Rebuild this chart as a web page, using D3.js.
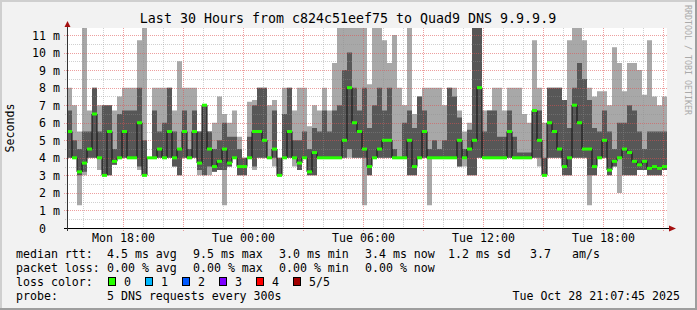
<!DOCTYPE html>
<html>
<head>
<meta charset="utf-8">
<script src="https://cdn.jsdelivr.net/npm/d3@7"></script>
<style>
body { margin: 0; background: #f2f2f2; }
text { font-family: "DejaVu Sans Mono", monospace; fill: #000; }
</style>
</head>
<body>
<div id="chart"></div>
<script>
// Median-RTT und Ping-Streuung pro 15-Minuten-Spalte (ms)
const median  = [5.5,4,3.2,3.7,4.5,6.5,4,3,5.5,3.8, 4,5.5,4,4,6,3,4,4,4.5,4,
                 5.5,4,4.5,5.5,4,5.5,3.7,7,4.5,3.5, 3.8,4.5,3.7,4,3.5,3.5,4,5.5,5.5,5,
                 4,4.5,3,4,5.5,4,3.7,4,3.2,4.3, 4,4,4,4,4,5,8,6,5.5,4.5,
                 3.5,4,4.5,5,5,4,4,4,5,3.5, 4,5.5,4,4,4,4,4,4,5,4,
                 4.5,5,8,4,4,4,4,4,5.5,4, 4,4,4,6.7,5,3,6,5.5,4.5,3.5,
                 4,7,6,4.5,4.5,3.5,4,5,3.3,3.8, 4,4.5,4.3,3.8,3.6,3.8,3.4,3.5,3.4,3.5];
const innerLo = [4,4,3,3.2,4,4,4,3,3,3.6, 4,4,4,4,3.5,3,4,4,4,4,
                 4,3.5,3,4,4,4,3.3,3,3.5,3.2, 3.3,3.3,3.5,4,3,3,4,3.5,4,4,
                 4,4,3,4,4,4,3.3,4,3,3, 4,4,4,4,4,4,4.5,4,4,4,
                 3,4,4,4,4,4,4,4,3,3, 4,4,4,4,4,4,4,4,3.5,4,
                 3,3,4,4,4,4,4,4,4,4, 4,4,4,4,4,3,4,4,4,3,
                 3,4,4,4,3,3,4,4,3,3.5, 4,3,3,3,3.3,3.3,3,3,3,3.3];
const innerHi = [6.7,5,4.5,5.5,5.5,8,5.5,7,7,4.5, 6.5,6.7,6.7,6.7,8,5,4,6.7,5.5,6,
                 8,5.5,4.5,6.7,4.5,6.7,5.5,7,5.5,4.5, 5,6,5.2,5.2,4.5,4,5.2,7,8,8,
                 4,6.7,4,6.5,8,5,5,5.5,4.5,5.7, 5.5,6.7,5.5,6.7,7,9,10,8,6.7,8,
                 5.7,7,8,6.7,8,4.5,4,6,6.7,5.7, 7.5,6.7,4.5,5,4.5,5,8,7.5,6.3,4.5,
                 5.6,11.4,11.4,5.5,6.7,6.7,5.2,5.2,6.7,5.2, 4.3,4.3,4.3,6.7,6.7,4,8,8,8,7.3,
                 5.7,8,9.4,8.5,7.3,5.7,5.5,6.7,5.5,4.5, 6,6,7,6.7,5.5,4.5,5.5,5.5,5.5,5.5];
const outerLo = [4,4,1.3,3,4,4,3.3,3,3,3.6, 4,4,4,4,3.3,3,4,4,4,4,
                 4,3.5,3,4,4,4,3,3,3,3.2, 3.3,1.3,3.5,4,3,3,4,3.3,4,4,
                 4,3.5,3,4,4,3.5,3.3,4,3,3, 4,4,4,4,4,4,4,4,4,1.3,
                 3,4,4,4,4,4,4,4,3,3, 4,4,1.3,4,4,4,4,4,3.5,3.5,
                 3,3,4,4,4,4,4,4,4,4, 4,4,4,4,3.5,3,4,4,4,3,
                 3,4,4,4,1.3,3,4,4,3,3.5, 2,3,3,3,3.3,3.3,3,3,3,3.3];
const outerHi = [8,7,5.5,11.4,6.7,8,7,7,7,6.7, 7.5,8,8,8,10.7,11.4,4,8,8,8,
                 8,6.7,9.5,8,8,8,5.5,7,5.5,6, 7.5,6.5,6,6.7,5.2,4,7.2,7.3,8,8,
                 7,7.3,4,8,8,6.7,8,8,5.8,7, 6.7,8,6.7,9.4,11.4,11.4,11.4,11.4,11.4,11.4,
                 8.2,11.4,11.4,10.7,9.4,11,8,7,11.4,6.5, 7.5,8,8,8,8,7,8,8,6.7,5.5,
                 6,11.4,11.4,6.7,6.7,8,8,6.7,8,8, 8,6.5,6,10.7,8,6,8,8,8,7.3,
                 10.7,11.4,11.4,10.7,8,7.5,7.8,7.8,7,10.3, 9.4,7.8,9.4,9.4,9,7.6,10.7,7.5,7,7.5];

const yTicks = [0,1,2,3,4,5,6,7,8,9,10,11];

const lossColors = ["#26ff00","#00b8ff","#0059ff","#7e00ff","#ff0000","#a10000"];
const lossLabels = ["0","1","2","3","4","5/5"];

const legendRows = [
    [[16,"median rtt:"],[107,"4.5 ms avg"],[193,"9.5 ms max"],[279,"3.0 ms min"],[365,"3.4 ms now"],[448,"1.2 ms sd"],[530,"3.7"],[572,"am/s"]],
    [[16,"packet loss:"],[107,"0.00 % avg"],[193,"0.00 % max"],[279,"0.00 % min"],[365,"0.00 % now"]],
    [[16,"loss color:"]],
    [[16,"probe:"],[107,"5 DNS requests every 300s"]]
];

const width = 697, height = 310;
const start = new Date(Date.UTC(2025, 9, 27, 15, 12));
const end = new Date(Date.UTC(2025, 9, 28, 21, 12));

const x = d3.scaleUtc().domain([start, end]).range([67, 667]);
const y = d3.scaleLinear().domain([0, 11.4]).range([228, 28]);

const svg = d3.select("#chart")
    .append("svg")
    .attr("width", width)
    .attr("height", height);

// Rahmen
svg.append("rect").attr("width", width).attr("height", height).attr("fill", "#f2f2f2");
svg.append("path").attr("d", "M0,1H696M1,0V310").attr("stroke", "#cfcfcf").attr("stroke-width", 2);
svg.append("path").attr("d", "M0,309H697M696,0V310").attr("stroke", "#9e9e9e").attr("stroke-width", 2);

svg.append("rect")
    .attr("x", 67).attr("y", 28).attr("width", 600).attr("height", 200)
    .attr("fill", "#fff");

// Daten
const rows = median.map((m, i) => ({
    t: d3.utcMinute.offset(start, 15 * i),
    m: m, il: innerLo[i], ih: innerHi[i], ol: outerLo[i], oh: outerHi[i]
}));
const stepRows = rows.concat([Object.assign({}, rows[rows.length - 1], {t: end})]);

svg.append("clipPath").attr("id", "plot")
    .append("rect").attr("x", 67).attr("y", 28).attr("width", 600).attr("height", 200);

const g = svg.append("g").attr("clip-path", "url(#plot)");

g.append("path")
    .datum(stepRows)
    .attr("fill", "#a8a8a8")
    .attr("d", d3.area().curve(d3.curveStepAfter)
        .x(d => x(d.t)).y0(d => y(d.ol)).y1(d => y(d.oh)));

g.append("path")
    .datum(stepRows)
    .attr("fill", "#575757")
    .attr("d", d3.area().curve(d3.curveStepAfter)
        .x(d => x(d.t)).y0(d => y(d.il)).y1(d => y(d.ih)));

// Gitter (über dem Rauch)
const hourTicks = d3.utcHour.range(start, end);
const minorX = hourTicks.filter(d => d.getUTCHours() % 3 !== 0);
const majorX = hourTicks.filter(d => d.getUTCHours() % 3 === 0);
const minorY = d3.range(0.5, 11.4, 1);
const majorY = yTicks.filter(d => d > 0);
const minorCol = "rgba(143,143,143,0.42)";
const majorCol = "rgba(222,80,80,0.55)";

const grid = svg.append("g").attr("shape-rendering", "crispEdges");
grid.selectAll(".vmin").data(minorX).join("line")
    .attr("x1", d => Math.round(x(d)) + 0.5).attr("x2", d => Math.round(x(d)) + 0.5)
    .attr("y1", 28).attr("y2", 230)
    .attr("stroke", minorCol).attr("stroke-dasharray", "1,1");
grid.selectAll(".hmin").data(minorY).join("line")
    .attr("x1", 65).attr("x2", 667)
    .attr("y1", d => Math.round(y(d)) + 0.5).attr("y2", d => Math.round(y(d)) + 0.5)
    .attr("stroke", minorCol).attr("stroke-dasharray", "1,1");
grid.selectAll(".vmaj").data(majorX).join("line")
    .attr("x1", d => Math.round(x(d)) + 0.5).attr("x2", d => Math.round(x(d)) + 0.5)
    .attr("y1", 28).attr("y2", 231)
    .attr("stroke", majorCol).attr("stroke-dasharray", "1,1");
grid.selectAll(".hmaj").data(majorY).join("line")
    .attr("x1", 64).attr("x2", 667)
    .attr("y1", d => Math.round(y(d)) + 0.5).attr("y2", d => Math.round(y(d)) + 0.5)
    .attr("stroke", majorCol).attr("stroke-dasharray", "1,1");

// Median
const gm = svg.append("g").attr("clip-path", "url(#plot)");
gm.append("path")
    .datum(stepRows)
    .attr("fill", "none")
    .attr("stroke", "#111")
    .attr("stroke-width", 1)
    .attr("d", d3.line().curve(d3.curveStepAfter).x(d => x(d.t)).y(d => y(d.m)));

gm.selectAll(".med").data(rows).join("rect")
    .attr("x", d => x(d.t))
    .attr("width", d => x(d3.utcMinute.offset(d.t, 15)) - x(d.t))
    .attr("y", d => y(d.m) - 1.5)
    .attr("height", 3)
    .attr("fill", lossColors[0]);

// Achsen
const yAxis = svg.append("g")
    .attr("transform", "translate(67,0)")
    .call(d3.axisLeft(y).tickValues(yTicks).tickSize(0).tickPadding(7)
        .tickFormat(d => d === 0 ? "0" : d + " m"));
yAxis.select(".domain").remove();
yAxis.selectAll("text").style("font-size", "11.6px").attr("dy", "0.35em");
yAxis.selectAll("text").filter(d => d === 0).attr("dx", -14);

const xAxis = svg.append("g")
    .attr("transform", "translate(0,228)")
    .call(d3.axisBottom(x).ticks(d3.utcHour.every(6)).tickSize(0).tickPadding(6)
        .tickFormat(d3.utcFormat("%a %H:%M")));
xAxis.select(".domain").remove();
xAxis.selectAll("text").style("font-size", "11.6px");

svg.append("line").attr("x1", 64).attr("x2", 670).attr("y1", 228.5).attr("y2", 228.5)
    .attr("stroke", "#000");
svg.append("line").attr("x1", 67.5).attr("x2", 67.5).attr("y1", 24).attr("y2", 231)
    .attr("stroke", "#333");
svg.append("path").attr("d", "M67.5,21L64.5,27L70.5,27Z").attr("fill", "#a51010");
svg.append("path").attr("d", "M676,228.5L669,225.5L669,231.5Z").attr("fill", "#a51010");

// Beschriftungen
svg.append("text")
    .attr("x", 348).attr("y", 23)
    .attr("text-anchor", "middle")
    .style("font-size", "13.3px")
    .text("Last 30 Hours from c824c51eef75 to Quad9 DNS 9.9.9.9");

svg.append("text")
    .attr("transform", "translate(14,128) rotate(-90)")
    .attr("text-anchor", "middle")
    .style("font-size", "11.6px")
    .text("Seconds");

svg.append("text")
    .attr("transform", "translate(685,5) rotate(90)")
    .style("font-size", "8.3px")
    .style("fill", "#aaaaaa")
    .text("RRDTOOL / TOBI OETIKER");

legendRows.forEach((row, r) => {
    row.forEach(([lx, txt]) => {
        svg.append("text")
            .attr("x", lx).attr("y", 258 + r * 14)
            .style("font-size", "11.6px")
            .text(txt);
    });
});

const lossG = svg.append("g");
lossColors.forEach((c, i) => {
    const bx = 108 + i * 37;
    lossG.append("rect")
        .attr("x", bx + 0.5).attr("y", 277.5).attr("width", 7).attr("height", 8)
        .attr("fill", c).attr("stroke", "#000");
    lossG.append("text")
        .attr("x", bx + 16).attr("y", 286)
        .style("font-size", "11.6px")
        .text(lossLabels[i]);
});

svg.append("text")
    .attr("x", 680).attr("y", 300)
    .attr("text-anchor", "end")
    .style("font-size", "11.6px")
    .text("Tue Oct 28 21:07:45 2025");
</script>
</body>
</html>
